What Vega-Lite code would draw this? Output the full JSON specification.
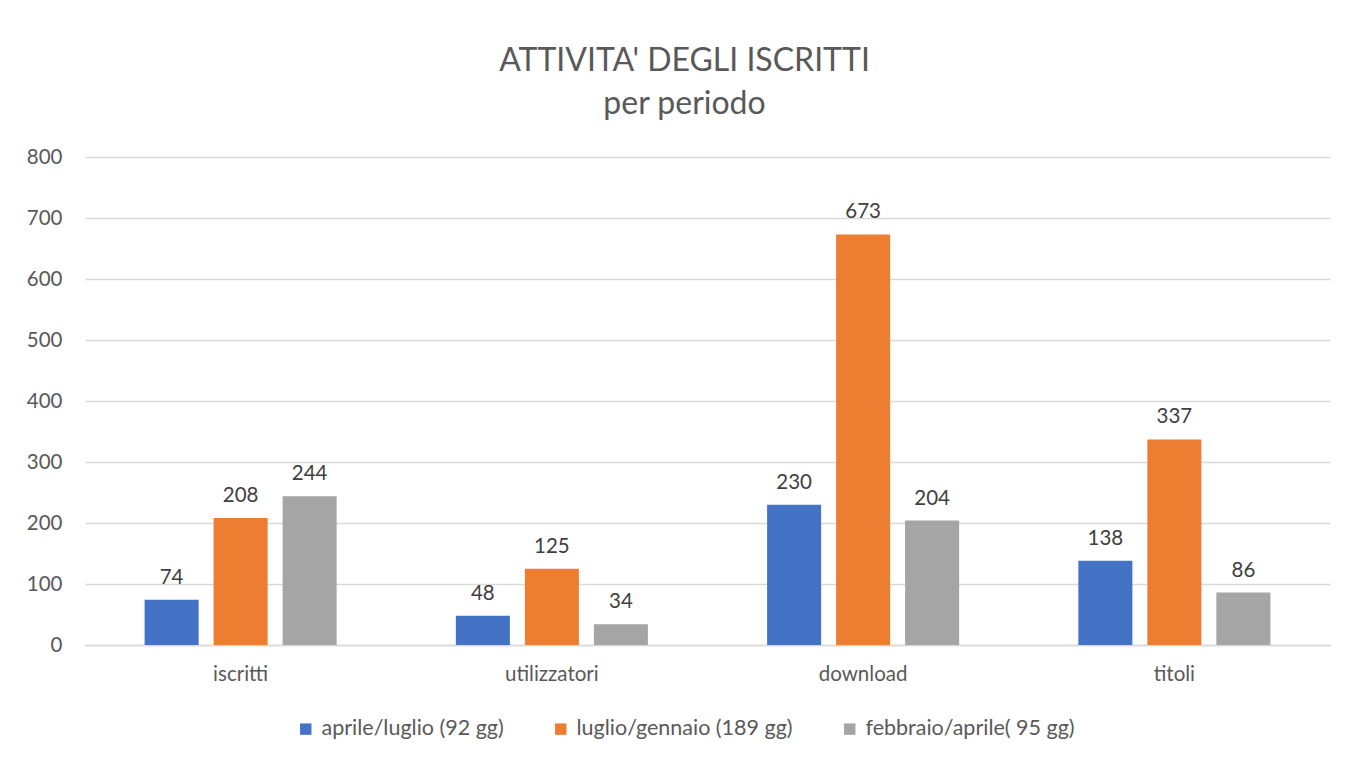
{
  "$schema": "https://vega.github.io/schema/vega-lite/v6.json",
  "width": 1245,
  "height": 488,
  "autosize": {"type": "none"},
  "padding": {"left": 85, "top": 157, "right": 19, "bottom": 115},
  "background": "white",
  "title": {
    "text": ["ATTIVITA' DEGLI ISCRITTI", "per periodo"],
    "font": "Lato",
    "fontSize": 32,
    "fontWeight": "normal",
    "color": "#595959",
    "lineHeight": 43,
    "anchor": "middle",
    "dx": -23,
    "offset": 26
  },
  "data": {
    "values": [
      {"categoria": "iscritti", "periodo": "aprile/luglio (92 gg)", "valore": 74},
      {"categoria": "iscritti", "periodo": "luglio/gennaio (189 gg)", "valore": 208},
      {"categoria": "iscritti", "periodo": "febbraio/aprile( 95 gg)", "valore": 244},
      {"categoria": "utilizzatori", "periodo": "aprile/luglio (92 gg)", "valore": 48},
      {"categoria": "utilizzatori", "periodo": "luglio/gennaio (189 gg)", "valore": 125},
      {"categoria": "utilizzatori", "periodo": "febbraio/aprile( 95 gg)", "valore": 34},
      {"categoria": "download", "periodo": "aprile/luglio (92 gg)", "valore": 230},
      {"categoria": "download", "periodo": "luglio/gennaio (189 gg)", "valore": 673},
      {"categoria": "download", "periodo": "febbraio/aprile( 95 gg)", "valore": 204},
      {"categoria": "titoli", "periodo": "aprile/luglio (92 gg)", "valore": 138},
      {"categoria": "titoli", "periodo": "luglio/gennaio (189 gg)", "valore": 337},
      {"categoria": "titoli", "periodo": "febbraio/aprile( 95 gg)", "valore": 86}
    ]
  },
  "encoding": {
    "x": {
      "field": "categoria",
      "type": "nominal",
      "sort": ["iscritti", "utilizzatori", "download", "titoli"],
      "scale": {"paddingInner": 0.383, "paddingOuter": 0.1915},
      "axis": {
        "title": null,
        "labelAngle": 0,
        "labelFont": "Lato",
        "labelFontSize": 20.5,
        "labelColor": "#595959",
        "labelPadding": 19,
        "ticks": false,
        "domain": true,
        "domainColor": "#d9d9d9",
        "domainWidth": 1.5
      }
    },
    "xOffset": {
      "field": "periodo",
      "type": "nominal",
      "sort": ["aprile/luglio (92 gg)", "luglio/gennaio (189 gg)", "febbraio/aprile( 95 gg)"],
      "scale": {"paddingInner": 0.217, "paddingOuter": 0}
    },
    "y": {
      "field": "valore",
      "type": "quantitative",
      "scale": {"domain": [0, 800]},
      "axis": {
        "title": null,
        "values": [0, 100, 200, 300, 400, 500, 600, 700, 800],
        "labelFont": "Lato",
        "labelFontSize": 20.5,
        "labelColor": "#595959",
        "labelPadding": 23,
        "ticks": false,
        "domain": false,
        "grid": true,
        "gridColor": "#d9d9d9",
        "gridWidth": 1.3
      }
    }
  },
  "layer": [
    {
      "mark": {"type": "bar"},
      "encoding": {
        "color": {
          "field": "periodo",
          "type": "nominal",
          "sort": ["aprile/luglio (92 gg)", "luglio/gennaio (189 gg)", "febbraio/aprile( 95 gg)"],
          "scale": {"range": ["#4472C4", "#ED7D31", "#A5A5A5"]},
          "legend": {
            "title": null,
            "orient": "none",
            "direction": "horizontal",
            "legendX": 210,
            "legendY": 561,
            "symbolType": "square",
            "symbolSize": 130,
            "symbolStrokeWidth": 0,
            "symbolOpacity": 1,
            "labelFont": "Lato",
            "labelFontSize": 21.5,
            "labelColor": "#595959",
            "labelOffset": 5,
            "labelLimit": 0,
            "columnPadding": 46
          }
        }
      }
    },
    {
      "mark": {
        "type": "text",
        "baseline": "alphabetic",
        "dy": -16,
        "font": "Lato",
        "fontSize": 20.5,
        "color": "#404040"
      },
      "encoding": {
        "text": {"field": "valore", "type": "quantitative"}
      }
    }
  ],
  "config": {
    "view": {"stroke": null}
  }
}
